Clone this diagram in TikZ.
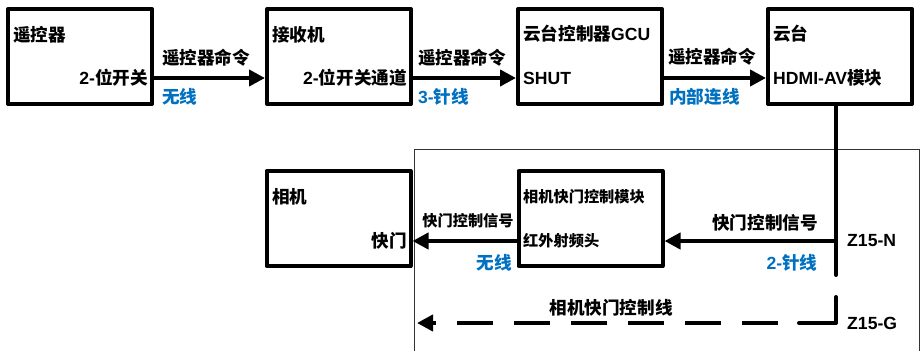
\documentclass[tikz,border=0pt]{standalone}
\usepackage{fontspec}
\setmainfont{Noto Sans CJK SC}
\newfontfamily\lf{Liberation Sans}
\usetikzlibrary{arrows.meta}
\definecolor{lblue}{HTML}{0070C0}
\tikzset{
  blk/.style={draw, line width=4pt, line join=round, minimum width=144pt, minimum height=95pt, inner sep=0pt},
  arr/.style={line width=4pt, -{Triangle[length=16pt,width=16pt]}},
  txt/.style={font=\fontsize{17.6}{17.6}\selectfont\bfseries, inner sep=0pt},
  stxt/.style={font=\fontsize{15.2}{15.2}\selectfont\bfseries, inner sep=0pt},
  btxt/.style={txt, text=lblue},
  frame/.style={line width=0.9pt, draw=black!80},
}
\begin{document}
\begin{tikzpicture}[x=1pt,y=-1pt]
\useasboundingbox (0,0) rectangle (920,351);
% thin frame
\draw[frame] (414,351) -- (414,149) -- (919,149) -- (919,351);
% boxes
\node[blk] (b1) at (80,56.5) {};
\node[blk] (b2) at (339,56.5) {};
\node[blk] (b3) at (590,56.5) {};
\node[blk] (b4) at (840,56.5) {};
\node[blk] (b5) at (590.5,218.5) {};
\node[blk] (b6) at (338.5,218.5) {};
% box texts
\node[txt, anchor=west] (t1a) at (13,35) {遥控器};
\node[txt, anchor=east] (t1b) at (148,78) {{\lf 2-}位开关};
\node[txt, anchor=west] (t2a) at (272,35) {接收机};
\node[txt, anchor=east] (t2b) at (407,78) {{\lf 2-}位开关通道};
\node[txt, anchor=west] (t3a) at (523,34) {云台控制器{\lf GCU}};
\node[txt, anchor=west] (t3b) at (523,78) {{\lf SHUT}};
\node[txt, anchor=west] (t4a) at (773,34) {云台};
\node[txt, anchor=west] (t4b) at (773,78) {{\lf HDMI-AV}模块};
\node[txt, anchor=west] (t6a) at (272,197) {相机};
\node[txt, anchor=east] (t6b) at (407,241) {快门};
\node[stxt, anchor=west] (t5a) at (523,197) {相机快门控制模块};
\node[stxt, anchor=west] (t5b) at (523,241) {红外射频头};
% top arrows
\draw[arr] ([yshift=-21.5pt]b1.east) -- ([yshift=-21.5pt]b2.west);
\draw[arr] ([yshift=-21.5pt]b2.east) -- ([yshift=-21.5pt]b3.west);
\draw[arr] ([yshift=-21.5pt]b3.east) -- ([yshift=-21.5pt]b4.west);
\node[txt] (l1) at (206,58) {遥控器命令};
\node[txt] (l2) at (462,58) {遥控器命令};
\node[txt] (l3) at (712,57) {遥控器命令};
\node[btxt, anchor=west] (w1) at (162,97) {无线};
\node[btxt, anchor=west] (w2) at (418,97) {{\lf 3-}针线};
\node[btxt, anchor=west] (w3) at (669,97) {内部连线};
% vertical line and lower arrows
\coordinate (vtop) at (836,106);
\coordinate (vmid) at (836,241);
\coordinate (vend) at (836,275);
\draw[line width=4pt, line cap=round] (vtop) -- (vend);
\draw[arr] (vmid) -- (b5.east |- vmid);
\draw[arr] (b5.west |- vmid) -- (b6.east |- vmid);
\node[txt] (l4) at (765,223) {快门控制信号};
\node[btxt] (w4) at (792,263) {{\lf 2-}针线};
\node[stxt] (l5) at (468,221) {快门控制信号};
\node[btxt] (w5) at (494,263) {无线};
\node[txt, anchor=west] (zn) at (847,241) {{\lf Z15-N}};
\node[txt, anchor=west] (zg) at (847,323) {{\lf Z15-G}};
% dashed line
\coordinate (d1) at (836,297);
\coordinate (d2) at (836,323);
\coordinate (d3) at (799,323);
\coordinate (d4) at (778,323);
\coordinate (d5) at (417,323);
\draw[line width=4pt, line cap=round, line join=round] (d1) -- (d2) -- (d3);
\draw[line width=4pt, dash pattern=on 36pt off 21pt, -{Triangle[length=16pt,width=16pt]}] (d4) -- (d5);
\node[txt] (l6) at (611,308) {相机快门控制线};
\end{tikzpicture}
\end{document}
